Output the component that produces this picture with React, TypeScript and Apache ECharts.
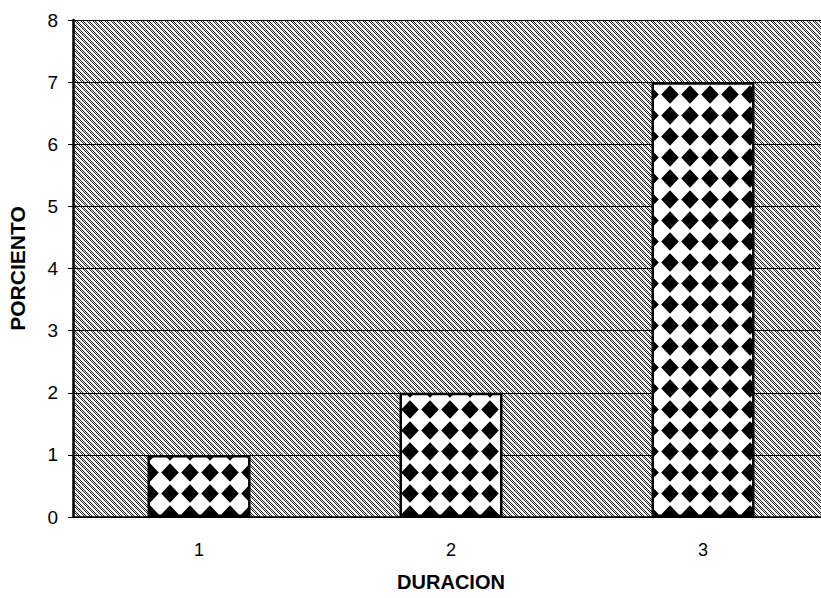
import React, { useEffect, useRef } from "react";
import * as echarts from "echarts";

const categories = ["1", "2", "3"];
const values = [1, 2, 7];
const yMin = 0;
const yMax = 8;
const yInterval = 1;
const xAxisName = "DURACION";
const yAxisName = "PORCIENTO";

function makeDiamondTile(): HTMLCanvasElement {
  const c = document.createElement("canvas");
  c.width = 20;
  c.height = 21;
  const g = c.getContext("2d")!;
  g.fillStyle = "#ffffff";
  g.fillRect(0, 0, 20, 21);
  g.fillStyle = "#000000";
  g.beginPath();
  g.moveTo(10, 1.2);
  g.lineTo(18.8, 10.5);
  g.lineTo(10, 19.8);
  g.lineTo(1.2, 10.5);
  g.closePath();
  g.fill();
  return c;
}

function makeHatchTile(): HTMLCanvasElement {
  const n = 6;
  const c = document.createElement("canvas");
  c.width = n;
  c.height = n;
  const g = c.getContext("2d")!;
  g.fillStyle = "#e2e2e2";
  g.fillRect(0, 0, n, n);
  for (let x = 0; x < n; x++) {
    for (let y = 0; y < n; y++) {
      const band = (x - y + n * 2) % n;
      if ((x + y) % 2 === 0 && band < 4) {
        g.fillStyle = "#2e2e2e";
        g.fillRect(x, y, 1, 1);
      } else if (band >= 4) {
        g.fillStyle = "#f6f6f6";
        g.fillRect(x, y, 1, 1);
      }
    }
  }
  return c;
}

export default function App() {
  const ref = useRef<HTMLDivElement>(null);
  useEffect(() => {
    if (!ref.current) return;
    const chart = echarts.init(ref.current, null, { renderer: "svg" });
    const diamond = makeDiamondTile();
    const hatch = makeHatchTile();
    const font = "'Liberation Sans', Arial, sans-serif";
    chart.setOption({
      animation: false,
      backgroundColor: "#ffffff",
      grid: {
        show: true,
        left: 73,
        top: 20,
        width: 756,
        height: 497,
        borderWidth: 0,
        containLabel: false,
        outerBoundsMode: "none",
        backgroundColor: {
          image: hatch,
          repeat: "repeat",
          imageWidth: 6,
          imageHeight: 6,
        } as any,
      } as any,
      xAxis: {
        type: "category",
        data: categories,
        name: xAxisName,
        nameLocation: "middle",
        nameGap: 55,
        nameMoveOverlap: false,
        nameTextStyle: { fontFamily: font, fontWeight: "bold", fontSize: 20, color: "#000" },
        axisLine: { show: true, lineStyle: { color: "#000", width: 1.5 } },
        axisTick: { show: false },
        axisLabel: { fontFamily: font, fontSize: 18, color: "#000", margin: 24 },
        splitLine: { show: false },
      } as any,
      yAxis: {
        type: "value",
        min: yMin,
        max: yMax,
        interval: yInterval,
        name: yAxisName,
        nameLocation: "middle",
        nameGap: 45,
        nameMoveOverlap: false,
        nameTextStyle: { fontFamily: font, fontWeight: "bold", fontSize: 21, color: "#000" },
        axisLine: { show: true, lineStyle: { color: "#000", width: 2.5 } },
        axisTick: { show: true, length: 5, lineStyle: { color: "#000", width: 1 } },
        axisLabel: { fontFamily: font, fontSize: 19, color: "#000", margin: 15 },
        splitLine: { show: true, lineStyle: { color: "#000", width: 1.2 } },
      } as any,
      series: [
        {
          type: "bar",
          data: values,
          barWidth: 103,
          z: 3,
          itemStyle: {
            color: {
              image: diamond,
              repeat: "repeat",
              imageWidth: 20,
              imageHeight: 21,
              x: 8,
              y: 11,
            } as any,
            borderColor: "#000",
            borderWidth: 2.5,
          },
        },
      ],
    });
    return () => chart.dispose();
  }, []);
  return (
    <div
      ref={ref}
      style={{ position: "absolute", left: 0, top: 0, width: 821, height: 598 }}
    />
  );
}
